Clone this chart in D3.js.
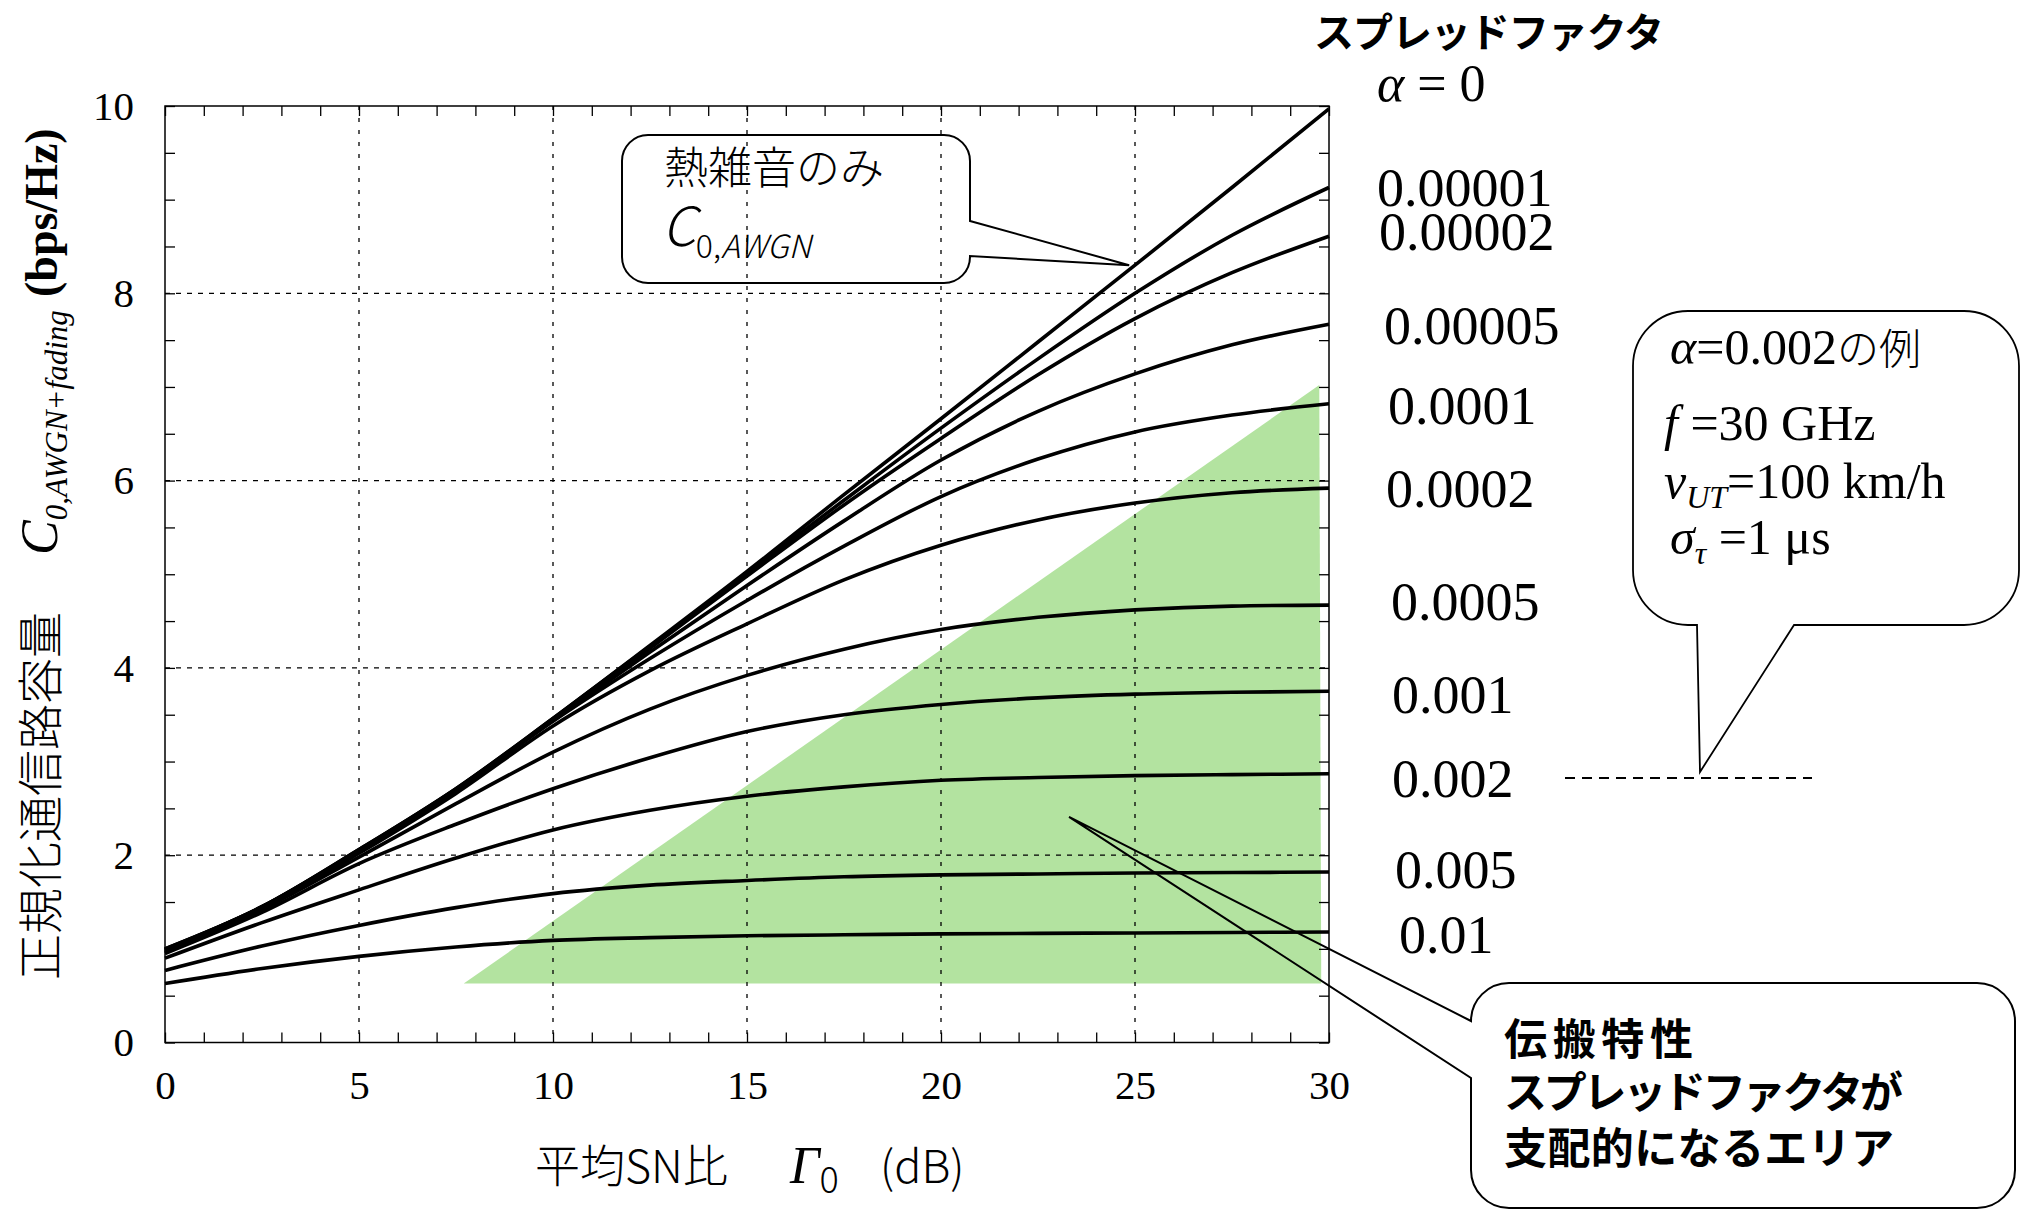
<!DOCTYPE html>
<html>
<head>
<meta charset="utf-8">
<script src="https://cdn.jsdelivr.net/npm/d3@7"></script>
<style>
  body { margin: 0; background: #fff; }
  svg text { fill: #000; }
</style>
</head>
<body>
<svg id="chart" width="2023" height="1212"></svg>
<script>
// average SNR (dB)
var snrDb = [0, 2.5, 5, 7.5, 10, 12.5, 15, 17.5, 20, 22.5, 25, 27.5, 30];

// spread factor alpha of each curve
var alphaLabels = ['0', '0.00001', '0.00002', '0.00005', '0.0001', '0.0002',
  '0.0005', '0.001', '0.002', '0.005', '0.01'];

// normalised capacity (bps/Hz), one array per alpha
var capA0     = [1.00, 1.45, 2.06, 2.71, 3.46, 4.24, 5.03, 5.85, 6.66, 7.48, 8.30, 9.13, 9.97];
var capA1e5   = [1.00, 1.45, 2.06, 2.71, 3.46, 4.23, 5.01, 5.79, 6.56, 7.30, 8.00, 8.62, 9.13];
var capA2e5   = [0.99, 1.45, 2.05, 2.70, 3.45, 4.21, 4.98, 5.74, 6.45, 7.13, 7.73, 8.22, 8.61];
var capA5e5   = [0.99, 1.44, 2.05, 2.70, 3.44, 4.17, 4.88, 5.57, 6.22, 6.74, 7.14, 7.45, 7.67];
var capA1e4   = [0.98, 1.44, 2.04, 2.69, 3.43, 4.10, 4.72, 5.30, 5.83, 6.23, 6.52, 6.70, 6.82];
var capA2e4   = [0.97, 1.43, 2.02, 2.66, 3.38, 3.97, 4.47, 4.94, 5.31, 5.58, 5.76, 5.87, 5.92];
var capA5e4   = [0.96, 1.42, 1.98, 2.55, 3.10, 3.56, 3.92, 4.20, 4.41, 4.54, 4.62, 4.66, 4.67];
var capA1e3   = [0.95, 1.39, 1.91, 2.33, 2.71, 3.04, 3.32, 3.50, 3.61, 3.68, 3.72, 3.74, 3.75];
var capA2e3   = [0.90, 1.28, 1.63, 1.97, 2.27, 2.48, 2.63, 2.73, 2.80, 2.83, 2.85, 2.86, 2.87];
var capA5e3   = [0.77, 1.03, 1.25, 1.44, 1.59, 1.68, 1.73, 1.77, 1.79, 1.80, 1.81, 1.815, 1.82];
var capA1e2   = [0.63, 0.79, 0.92, 1.02, 1.09, 1.12, 1.14, 1.15, 1.16, 1.165, 1.17, 1.175, 1.18];

var series = [capA0, capA1e5, capA2e5, capA5e5, capA1e4, capA2e4,
  capA5e4, capA1e3, capA2e3, capA5e3, capA1e2];

// area where the spread factor dominates (dB, bps/Hz)
var dominantArea = [[7.7, 0.63], [29.75, 7.02], [29.8, 0.63]];

var xTickLabels = [0, 5, 10, 15, 20, 25, 30];
var yTickLabels = [0, 2, 4, 6, 8, 10];
var xGrid = [5, 10, 15, 20, 25];
var yGrid = [2, 4, 6, 8];

var svg = d3.select('#chart');
var serif = '"Liberation Serif", "Times New Roman", serif';
var jp = '"Noto Sans CJK JP", "Noto Sans", sans-serif';

var x = d3.scaleLinear().domain([0, 30]).range([165, 1329]);
var y = d3.scaleLinear().domain([0, 10]).range([1042.5, 106]);

// green area
svg.append('path')
  .attr('d', d3.line().x(function (d) { return x(d[0]); }).y(function (d) { return y(d[1]); })(dominantArea) + 'Z')
  .attr('fill', '#b3e3a0');

// dashed grid
svg.append('g').selectAll('line').data(xGrid).join('line')
  .attr('x1', function (d) { return x(d); }).attr('x2', function (d) { return x(d); })
  .attr('y1', y(10)).attr('y2', y(0))
  .attr('stroke', '#000').attr('stroke-width', 1.3).attr('stroke-dasharray', '4,8');
svg.append('g').selectAll('line').data(yGrid).join('line')
  .attr('y1', function (d) { return y(d); }).attr('y2', function (d) { return y(d); })
  .attr('x1', x(0)).attr('x2', x(30))
  .attr('stroke', '#000').attr('stroke-width', 1.3).attr('stroke-dasharray', '5,6');

// axes, ticks inward
var styleAxis = function (g) {
  g.select('.domain').remove();
  g.selectAll('line').attr('stroke', '#000').attr('stroke-width', 1.3);
  g.selectAll('text').attr('font-family', serif).attr('font-size', 41).attr('fill', '#000');
};

svg.append('g').attr('transform', 'translate(0,' + y(0) + ')')
  .call(d3.axisBottom(x).tickValues(d3.range(0, 31)).tickSize(-10).tickPadding(27)
    .tickFormat(function (d) { return xTickLabels.indexOf(d) >= 0 ? d : ''; }))
  .call(styleAxis);
svg.append('g').attr('transform', 'translate(0,' + y(10) + ')')
  .call(d3.axisTop(x).tickValues(d3.range(0, 31)).tickSize(-10).tickFormat(''))
  .call(styleAxis);
svg.append('g').attr('transform', 'translate(' + x(0) + ',0)')
  .call(d3.axisLeft(y).tickValues(d3.range(0, 10.01, 0.5)).tickSize(-10).tickPadding(31)
    .tickFormat(function (d) { return yTickLabels.indexOf(d) >= 0 ? d : ''; }))
  .call(styleAxis);
svg.append('g').attr('transform', 'translate(' + x(30) + ',0)')
  .call(d3.axisRight(y).tickValues(d3.range(0, 10.01, 0.5)).tickSize(-10).tickFormat(''))
  .call(styleAxis);

// curves
var line = d3.line()
  .x(function (d, i) { return x(snrDb[i]); })
  .y(function (d) { return y(d); })
  .curve(d3.curveMonotoneX);

svg.append('g').selectAll('path').data(series).join('path')
  .attr('d', line)
  .attr('fill', 'none')
  .attr('stroke', '#000')
  .attr('stroke-width', 3.6)
  .attr('stroke-linejoin', 'round');

// frame
svg.append('rect')
  .attr('x', x(0)).attr('y', y(10))
  .attr('width', x(30) - x(0)).attr('height', y(0) - y(10))
  .attr('fill', 'none').attr('stroke', '#000').attr('stroke-width', 1.5);

// curve labels on the right
var labelPos = [null, [1377, 206], [1379, 250], [1384, 344], [1388, 424], [1386, 507],
  [1391, 620], [1392, 713], [1392, 797], [1395, 888], [1399, 953]];

svg.append('g').selectAll('text').data(alphaLabels.slice(1)).join('text')
  .attr('x', function (d, i) { return labelPos[i + 1][0]; })
  .attr('y', function (d, i) { return labelPos[i + 1][1]; })
  .attr('font-family', serif).attr('font-size', 54)
  .text(function (d) { return d; });

var a0 = svg.append('text').attr('x', 1377).attr('y', 101)
  .attr('font-family', serif).attr('font-size', 52);
a0.append('tspan').attr('font-style', 'italic').text('α');
a0.append('tspan').text(' = ' + alphaLabels[0]);

svg.append('text').attr('x', 1314).attr('y', 47)
  .attr('font-family', jp).attr('font-weight', 'bold').attr('font-size', 40)
  .attr('textLength', 350)
  .text('スプレッドファクタ');

// x axis title
var xt = svg.append('text').attr('y', 1183).attr('font-family', jp).attr('font-weight', 300).attr('font-size', 45);
xt.append('tspan').attr('x', 535).text('平均SN比');
xt.append('tspan').attr('x', 790).attr('font-family', serif).attr('font-style', 'italic')
  .attr('font-size', 52).text('Γ');
xt.append('tspan').attr('font-size', 36).attr('dy', 10).text('0');
xt.append('tspan').attr('x', 880).attr('dy', -10).text('(dB)');

// y axis title (rotated)
var yt = svg.append('text').attr('transform', 'translate(57,980) rotate(-90)')
  .attr('font-family', jp).attr('font-weight', 300).attr('font-size', 46);
yt.append('tspan').attr('x', 0).text('正規化通信路容量');
yt.append('tspan').attr('x', 425).attr('font-family', serif).attr('font-style', 'italic')
  .attr('font-size', 52).text('C');
yt.append('tspan').attr('font-family', serif).attr('font-style', 'italic')
  .attr('font-size', 31).attr('dy', 10).text('0,AWGN+fading');
yt.append('tspan').attr('x', 683).attr('dy', -10).attr('font-family', serif)
  .attr('font-weight', 'bold').attr('font-size', 46).text('(bps/Hz)');

// callout 1: thermal noise only
var tip1 = [x(24.85), y(8.3)];
var b1 = { l: 622, t: 135, r: 970, b: 283, k: 26 };
svg.append('path')
  .attr('d', 'M' + b1.r + ',221 L' + tip1[0] + ',' + tip1[1] + ' L' + b1.r + ',256' +
    ' L' + b1.r + ',' + (b1.b - b1.k) + ' A' + b1.k + ',' + b1.k + ' 0 0 1 ' + (b1.r - b1.k) + ',' + b1.b +
    ' L' + (b1.l + b1.k) + ',' + b1.b + ' A' + b1.k + ',' + b1.k + ' 0 0 1 ' + b1.l + ',' + (b1.b - b1.k) +
    ' L' + b1.l + ',' + (b1.t + b1.k) + ' A' + b1.k + ',' + b1.k + ' 0 0 1 ' + (b1.l + b1.k) + ',' + b1.t +
    ' L' + (b1.r - b1.k) + ',' + b1.t + ' A' + b1.k + ',' + b1.k + ' 0 0 1 ' + b1.r + ',' + (b1.t + b1.k) + ' Z')
  .attr('fill', 'none').attr('stroke', '#000').attr('stroke-width', 2);

svg.append('text').attr('x', 664).attr('y', 184)
  .attr('font-family', jp).attr('font-weight', 300).attr('font-size', 44)
  .text('熱雑音のみ');
var c0 = svg.append('text').attr('x', 662).attr('y', 246)
  .attr('font-family', jp).attr('font-weight', 300);
c0.append('tspan').attr('font-size', 54).attr('font-style', 'italic').text('C');
c0.append('tspan').attr('font-size', 32).attr('dy', 12).text('0,');
c0.append('tspan').attr('font-size', 32).attr('font-style', 'italic').text('AWGN');

// callout 2: example alpha = 0.002
var b2 = { l: 1633, t: 311, r: 2019, b: 625, k: 55 };
svg.append('path')
  .attr('d', 'M1794,' + b2.b + ' L1700,772 L1697,' + b2.b +
    ' L' + (b2.l + b2.k) + ',' + b2.b + ' A' + b2.k + ',' + b2.k + ' 0 0 1 ' + b2.l + ',' + (b2.b - b2.k) +
    ' L' + b2.l + ',' + (b2.t + b2.k) + ' A' + b2.k + ',' + b2.k + ' 0 0 1 ' + (b2.l + b2.k) + ',' + b2.t +
    ' L' + (b2.r - b2.k) + ',' + b2.t + ' A' + b2.k + ',' + b2.k + ' 0 0 1 ' + b2.r + ',' + (b2.t + b2.k) +
    ' L' + b2.r + ',' + (b2.b - b2.k) + ' A' + b2.k + ',' + b2.k + ' 0 0 1 ' + (b2.r - b2.k) + ',' + b2.b + ' Z')
  .attr('fill', 'none').attr('stroke', '#000').attr('stroke-width', 1.8);

svg.append('line').attr('x1', 1565).attr('x2', 1812).attr('y1', 778).attr('y2', 778)
  .attr('stroke', '#000').attr('stroke-width', 2).attr('stroke-dasharray', '10,7');

var e1 = svg.append('text').attr('x', 1670).attr('y', 364).attr('font-family', serif).attr('font-size', 50);
e1.append('tspan').attr('font-style', 'italic').text('α');
e1.append('tspan').text('=0.002');
e1.append('tspan').attr('font-family', jp).attr('font-weight', 300).attr('font-size', 42).text('の例');

var e2 = svg.append('text').attr('x', 1664).attr('y', 440).attr('font-family', serif).attr('font-size', 50);
e2.append('tspan').attr('font-style', 'italic').text('f');
e2.append('tspan').text(' =30 GHz');

var e3 = svg.append('text').attr('x', 1664).attr('y', 498).attr('font-family', serif).attr('font-size', 50);
e3.append('tspan').attr('font-style', 'italic').text('v');
e3.append('tspan').attr('font-style', 'italic').attr('font-size', 32).attr('dy', 10).text('UT');
e3.append('tspan').attr('dy', -10).text('=100 km/h');

var e4 = svg.append('text').attr('x', 1670).attr('y', 554).attr('font-family', serif).attr('font-size', 50);
e4.append('tspan').attr('font-style', 'italic').text('σ');
e4.append('tspan').attr('font-style', 'italic').attr('font-size', 32).attr('dy', 10).text('τ');
e4.append('tspan').attr('dy', -10).text(' =1 μs');

// callout 3: area dominated by the spread factor
var tip3 = [x(23.3), y(2.41)];
var b3 = { l: 1471, t: 983, r: 2015, b: 1208, k: 38 };
svg.append('path')
  .attr('d', 'M' + b3.l + ',1021 L' + tip3[0] + ',' + tip3[1] + ' L' + b3.l + ',1078' +
    ' L' + b3.l + ',' + (b3.b - b3.k) + ' A' + b3.k + ',' + b3.k + ' 0 0 0 ' + (b3.l + b3.k) + ',' + b3.b +
    ' L' + (b3.r - b3.k) + ',' + b3.b + ' A' + b3.k + ',' + b3.k + ' 0 0 0 ' + b3.r + ',' + (b3.b - b3.k) +
    ' L' + b3.r + ',' + (b3.t + b3.k) + ' A' + b3.k + ',' + b3.k + ' 0 0 0 ' + (b3.r - b3.k) + ',' + b3.t +
    ' L' + (b3.l + b3.k) + ',' + b3.t + ' A' + b3.k + ',' + b3.k + ' 0 0 0 ' + b3.l + ',' + (b3.t + b3.k) + ' Z')
  .attr('fill', 'none').attr('stroke', '#000').attr('stroke-width', 2);

var noteLines = [['伝搬特性', 1055, 189], ['スプレッドファクタが', 1108, 399], ['支配的になるエリア', 1164, 390]];
svg.append('g').selectAll('text').data(noteLines).join('text')
  .attr('x', 1504)
  .attr('y', function (d) { return d[1]; })
  .attr('textLength', function (d) { return d[2]; })
  .attr('font-family', jp).attr('font-weight', 'bold').attr('font-size', 43)
  .text(function (d) { return d[0]; });
</script>
</body>
</html>
